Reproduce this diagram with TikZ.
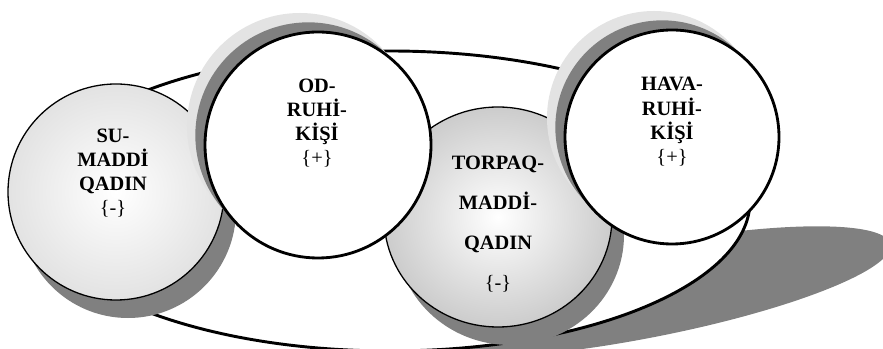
\documentclass[tikz,border=0pt]{standalone}
\usepackage{fontspec}
\setmainfont{Liberation Serif}
\usepackage{tikz}
\usetikzlibrary{shapes.geometric, shadows}
\definecolor{shadowgray}{HTML}{808080}
\definecolor{rim}{HTML}{E3E3E3}
\definecolor{pale}{HTML}{C6C6C6}
\definecolor{dusk}{HTML}{999999}
\pgfdeclareradialshading{waterball}{\pgfpoint{0bp}{0bp}}{color(0bp)=(white); color(50bp)=(pale); color(100bp)=(pale)}
\pgfdeclareradialshading{earthball}{\pgfpoint{0bp}{0bp}}{color(0bp)=(white); color(50bp)=(dusk); color(100bp)=(dusk)}
\tikzstyle{ball} = [ellipse, inner sep=0pt, draw=black]
\tikzstyle{lower} = [ball, line width=1.1pt,
general shadow={fill=shadowgray, shadow xshift=0.36cm, shadow yshift=-0.54cm}]
\tikzstyle{upper} = [ball, line width=2.4pt, fill=white,
general shadow={fill=rim, shadow xshift=-0.54cm, shadow yshift=0.57cm},
general shadow={fill=shadowgray, shadow xshift=-0.29cm, shadow yshift=0.29cm}]
\tikzstyle{word} = [align=center, font=\bfseries\fontsize{17.4}{20.7}\selectfont]

\begin{document}
\begin{tikzpicture}[x=0.03cm, y=-0.03cm]
            \useasboundingbox (0,0) rectangle (883,349);

            % ring with its shadow
            \fill[shadowgray, rotate around={11:(645,292)}] (645,292) ellipse [x radius=250, y radius=46];
            \draw[line width=2.5pt, fill=white] (390,201) ellipse [x radius=360, y radius=150];

            \node (su)     [lower, shading=waterball, minimum width=6.48cm, minimum height=6.48cm] at (116,192) {};
            \node (torpaq) [lower, shading=earthball, minimum width=6.84cm, minimum height=6.6cm] at (498,217) {};
            \node (od)     [upper, minimum size=6.78cm] at (318,145) {};
            \node (hava)   [upper, minimum size=6.42cm] at (672,137) {};

            \node (su-txt)     [word] at (113,173) {SU-\\MADDİ\\QADIN\\{\mdseries\{-\}}};
            \node (od-txt)     [word] at (317,123) {OD-\\RUHİ-\\KİŞİ\\{\mdseries\{+\}}};
            \node (torpaq-txt) [word, font=\bfseries\fontsize{17.4}{34.3}\selectfont] at (498,224) {TORPAQ-\\MADDİ-\\QADIN\\{\mdseries\{-\}}};
            \node (hava-txt)   [word] at (672,122) {HAVA-\\RUHİ-\\KİŞİ\\{\mdseries\{+\}}};

\end{tikzpicture}
\end{document}
